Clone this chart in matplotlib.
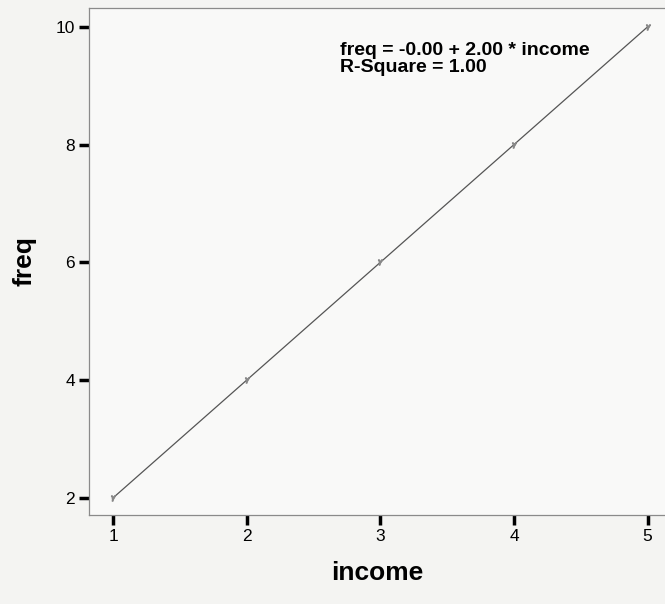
import numpy as np
import matplotlib
matplotlib.use("Agg")
from matplotlib import pyplot as plt

plt.rcParams["font.family"] = ["Liberation Sans", "DejaVu Sans"]

# observed values
income = [1, 2, 3, 4, 5]
freq = [2, 4, 6, 8, 10]
x_ticks = [1, 2, 3, 4, 5]
y_ticks = [2, 4, 6, 8, 10]

# linear fit
slope, intercept = np.polyfit(income, freq, 1)
r2 = np.corrcoef(income, freq)[0, 1] ** 2
fit_label = f"freq = -{abs(intercept):.2f} + {slope:.2f} * income\nR-Square = {r2:.2f}"

fig = plt.figure(figsize=(6.65, 6.04), dpi=100, facecolor="#f4f4f2")
ax = fig.add_axes([0.1338, 0.1474, 0.8662, 0.8394], facecolor="#f9f9f8")

fit_x = np.array([min(income), max(income)])
ax.plot(fit_x, intercept + slope * fit_x, color="#555555", lw=0.9)
ax.scatter(income, freq, s=14, marker="$\\gamma$", color="#888888", zorder=3)

ax.set_xlim(0.82, 5.13)
ax.set_ylim(1.71, 10.32)
ax.set_xticks(x_ticks)
ax.set_yticks(y_ticks)
ax.tick_params(direction="out", length=7, width=2.5, color="black",
               labelsize=12.5, pad=3)

for side in ["left", "bottom", "top"]:
    ax.spines[side].set_color("#8a8a8a")
    ax.spines[side].set_linewidth(0.9)
ax.spines["right"].set_visible(False)

ax.set_xlabel("income", fontsize=19, fontweight="bold", labelpad=12)
ax.set_ylabel("freq", fontsize=19, fontweight="bold", labelpad=14)

ax.text(0.436, 0.932, fit_label, transform=ax.transAxes, va="top", ha="left",
        fontsize=14, fontweight="bold", linespacing=1.0)

fig.savefig("out.png", dpi=100, facecolor=fig.get_facecolor())
